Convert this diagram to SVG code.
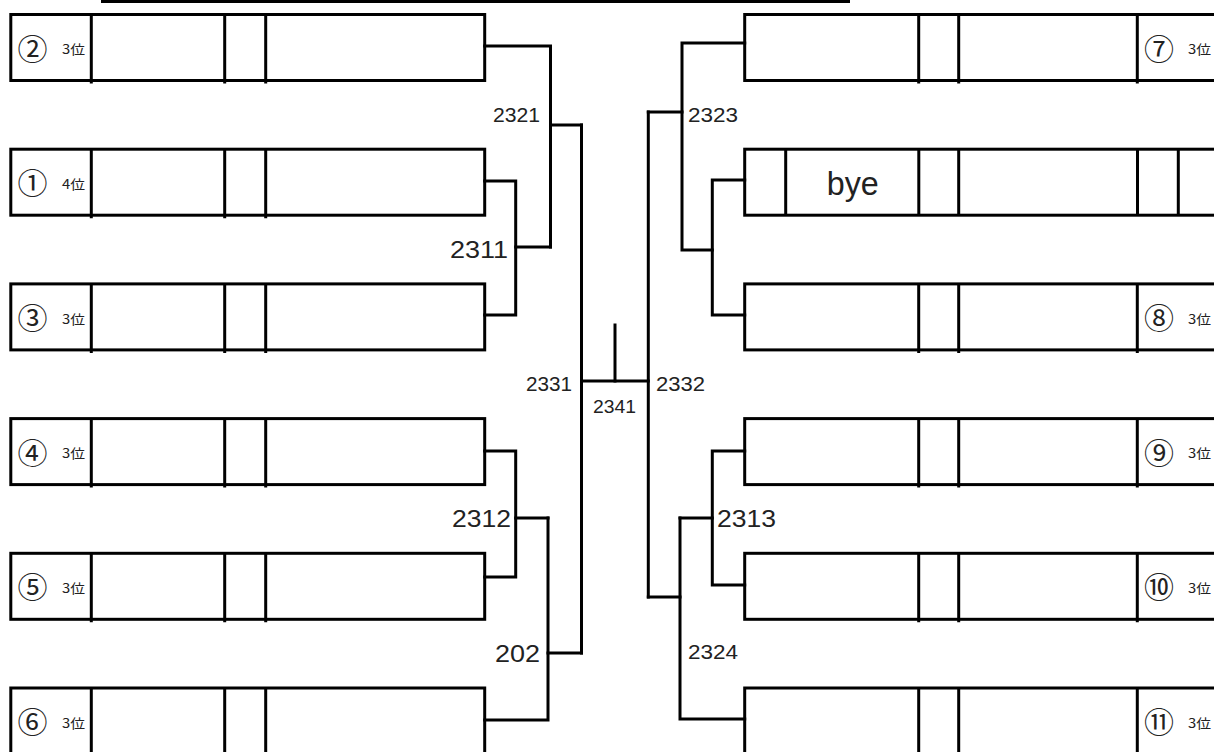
<svg xmlns="http://www.w3.org/2000/svg" width="1214" height="752" viewBox="0 0 1214 752">
<style>
.box{fill:#fff;stroke:#000;stroke-width:3}
.dv{stroke:#000;stroke-width:3;fill:none}
.cn{stroke:#000;stroke-width:3;fill:none;stroke-linejoin:miter;stroke-linecap:square}
.cir{font-family:"Noto Sans CJK JP","DejaVu Sans",sans-serif;font-size:30px;text-anchor:middle;fill:#222}
.rank{font-family:"Noto Sans CJK JP","Liberation Sans",sans-serif;font-size:13px;fill:#222}
.lb{font-family:"Liberation Sans",Arial,sans-serif;fill:#222}
</style>
<rect width="1214" height="752" fill="#fff"/>
<line x1="101" y1="1.5" x2="850" y2="1.5" stroke="#000" stroke-width="3"/>

<g id="L2"><rect class="box" x="10.8" y="14.5" width="473.9" height="66"/><path class="dv" d="M91.3,14.5V83.5M224.7,14.5V83.5M265.7,14.5V83.5"/><text class="cir" x="32.5" y="59.5">②</text><text class="rank" x="62" y="54.3" textLength="23" lengthAdjust="spacingAndGlyphs">3位</text></g>
<g id="L1"><rect class="box" x="10.8" y="149.2" width="473.9" height="66"/><path class="dv" d="M91.3,149.2V218.2M224.7,149.2V218.2M265.7,149.2V218.2"/><text class="cir" x="32.5" y="194.2">①</text><text class="rank" x="62" y="189" textLength="23" lengthAdjust="spacingAndGlyphs">4位</text></g>
<g id="L3"><rect class="box" x="10.8" y="283.9" width="473.9" height="66"/><path class="dv" d="M91.3,283.9V352.9M224.7,283.9V352.9M265.7,283.9V352.9"/><text class="cir" x="32.5" y="328.9">③</text><text class="rank" x="62" y="323.7" textLength="23" lengthAdjust="spacingAndGlyphs">3位</text></g>
<g id="L4"><rect class="box" x="10.8" y="418.6" width="473.9" height="66"/><path class="dv" d="M91.3,418.6V487.6M224.7,418.6V487.6M265.7,418.6V487.6"/><text class="cir" x="32.5" y="463.6">④</text><text class="rank" x="62" y="458.4" textLength="23" lengthAdjust="spacingAndGlyphs">3位</text></g>
<g id="L5"><rect class="box" x="10.8" y="553.3" width="473.9" height="66"/><path class="dv" d="M91.3,553.3V622.3M224.7,553.3V622.3M265.7,553.3V622.3"/><text class="cir" x="32.5" y="598.3">⑤</text><text class="rank" x="62" y="593.1" textLength="23" lengthAdjust="spacingAndGlyphs">3位</text></g>
<g id="L6"><rect class="box" x="10.8" y="688" width="473.9" height="66"/><path class="dv" d="M91.3,688V757M224.7,688V757M265.7,688V757"/><text class="cir" x="32.5" y="733">⑥</text><text class="rank" x="62" y="727.8" textLength="23" lengthAdjust="spacingAndGlyphs">3位</text></g>

<g id="R7"><rect class="box" x="744.7" y="14.5" width="490" height="66"/><path class="dv" d="M918.7,14.5V83.5M958.7,14.5V83.5M1137.3,14.5V83.5"/><text class="cir" x="1159" y="59.5">⑦</text><text class="rank" x="1188" y="54.3" textLength="23" lengthAdjust="spacingAndGlyphs">3位</text></g>
<g id="Rbye"><rect class="box" x="744.7" y="149.2" width="490" height="66"/><path class="dv" d="M785.7,149.2V215.2M918.8,149.2V215.2M958.7,149.2V215.2M1137.5,149.2V215.2M1178.3,149.2V215.2"/><text class="lb" x="826.8" y="195" font-size="33" textLength="52" lengthAdjust="spacingAndGlyphs">bye</text></g>
<g id="R8"><rect class="box" x="744.7" y="283.9" width="490" height="66"/><path class="dv" d="M918.7,283.9V352.9M958.7,283.9V352.9M1137.3,283.9V352.9"/><text class="cir" x="1159" y="328.9">⑧</text><text class="rank" x="1188" y="323.7" textLength="23" lengthAdjust="spacingAndGlyphs">3位</text></g>
<g id="R9"><rect class="box" x="744.7" y="418.6" width="490" height="66"/><path class="dv" d="M918.7,418.6V487.6M958.7,418.6V487.6M1137.3,418.6V487.6"/><text class="cir" x="1159" y="463.6">⑨</text><text class="rank" x="1188" y="458.4" textLength="23" lengthAdjust="spacingAndGlyphs">3位</text></g>
<g id="R10"><rect class="box" x="744.7" y="553.3" width="490" height="66"/><path class="dv" d="M918.7,553.3V622.3M958.7,553.3V622.3M1137.3,553.3V622.3"/><text class="cir" x="1159" y="598.3">⑩</text><text class="rank" x="1188" y="593.1" textLength="23" lengthAdjust="spacingAndGlyphs">3位</text></g>
<g id="R11"><rect class="box" x="744.7" y="688" width="490" height="66"/><path class="dv" d="M918.7,688V757M958.7,688V757M1137.3,688V757"/><text class="cir" x="1159" y="733">⑪</text><text class="rank" x="1188" y="727.8" textLength="23" lengthAdjust="spacingAndGlyphs">3位</text></g>

<g id="connectors">
<path class="cn" d="M484.7,46H550.5V247"/>
<path class="cn" d="M550.5,125H581.5"/>
<path class="cn" d="M484.7,181H515.7V315H484.7"/>
<path class="cn" d="M515.7,247H550.5"/>
<path class="cn" d="M484.7,451H515.7V577H484.7"/>
<path class="cn" d="M515.7,518H548"/>
<path class="cn" d="M484.7,720H548V518"/>
<path class="cn" d="M548,653H581.5"/>
<path class="cn" d="M581.5,125V653"/>
<path class="cn" d="M581.5,381H648.3"/>
<path class="cn" d="M615,325V381"/>
<path class="cn" d="M648.3,112V597"/>
<path class="cn" d="M744.7,43H682V250H712.3"/>
<path class="cn" d="M648.3,112H682"/>
<path class="cn" d="M744.7,180H712.3V315H744.7"/>
<path class="cn" d="M744.7,451H712.3V585H744.7"/>
<path class="cn" d="M680,518H712.3"/>
<path class="cn" d="M744.7,719H680V518"/>
<path class="cn" d="M648.3,597H680"/>
</g>

<g id="labels">
<text class="lb" x="493" y="122" font-size="20" textLength="47" lengthAdjust="spacingAndGlyphs">2321</text>
<text class="lb" x="688" y="122" font-size="20" textLength="50" lengthAdjust="spacingAndGlyphs">2323</text>
<text class="lb" x="450" y="258" font-size="23" textLength="58" lengthAdjust="spacingAndGlyphs">2311</text>
<text class="lb" x="452" y="527" font-size="23" textLength="59" lengthAdjust="spacingAndGlyphs">2312</text>
<text class="lb" x="717" y="527" font-size="23" textLength="59" lengthAdjust="spacingAndGlyphs">2313</text>
<text class="lb" x="495" y="662" font-size="24" textLength="45" lengthAdjust="spacingAndGlyphs">202</text>
<text class="lb" x="688" y="659" font-size="20" textLength="50" lengthAdjust="spacingAndGlyphs">2324</text>
<text class="lb" x="526" y="391" font-size="20" textLength="46" lengthAdjust="spacingAndGlyphs">2331</text>
<text class="lb" x="656" y="391" font-size="20" textLength="49" lengthAdjust="spacingAndGlyphs">2332</text>
<text class="lb" x="593" y="413" font-size="18" textLength="43" lengthAdjust="spacingAndGlyphs">2341</text>
</g>
</svg>
